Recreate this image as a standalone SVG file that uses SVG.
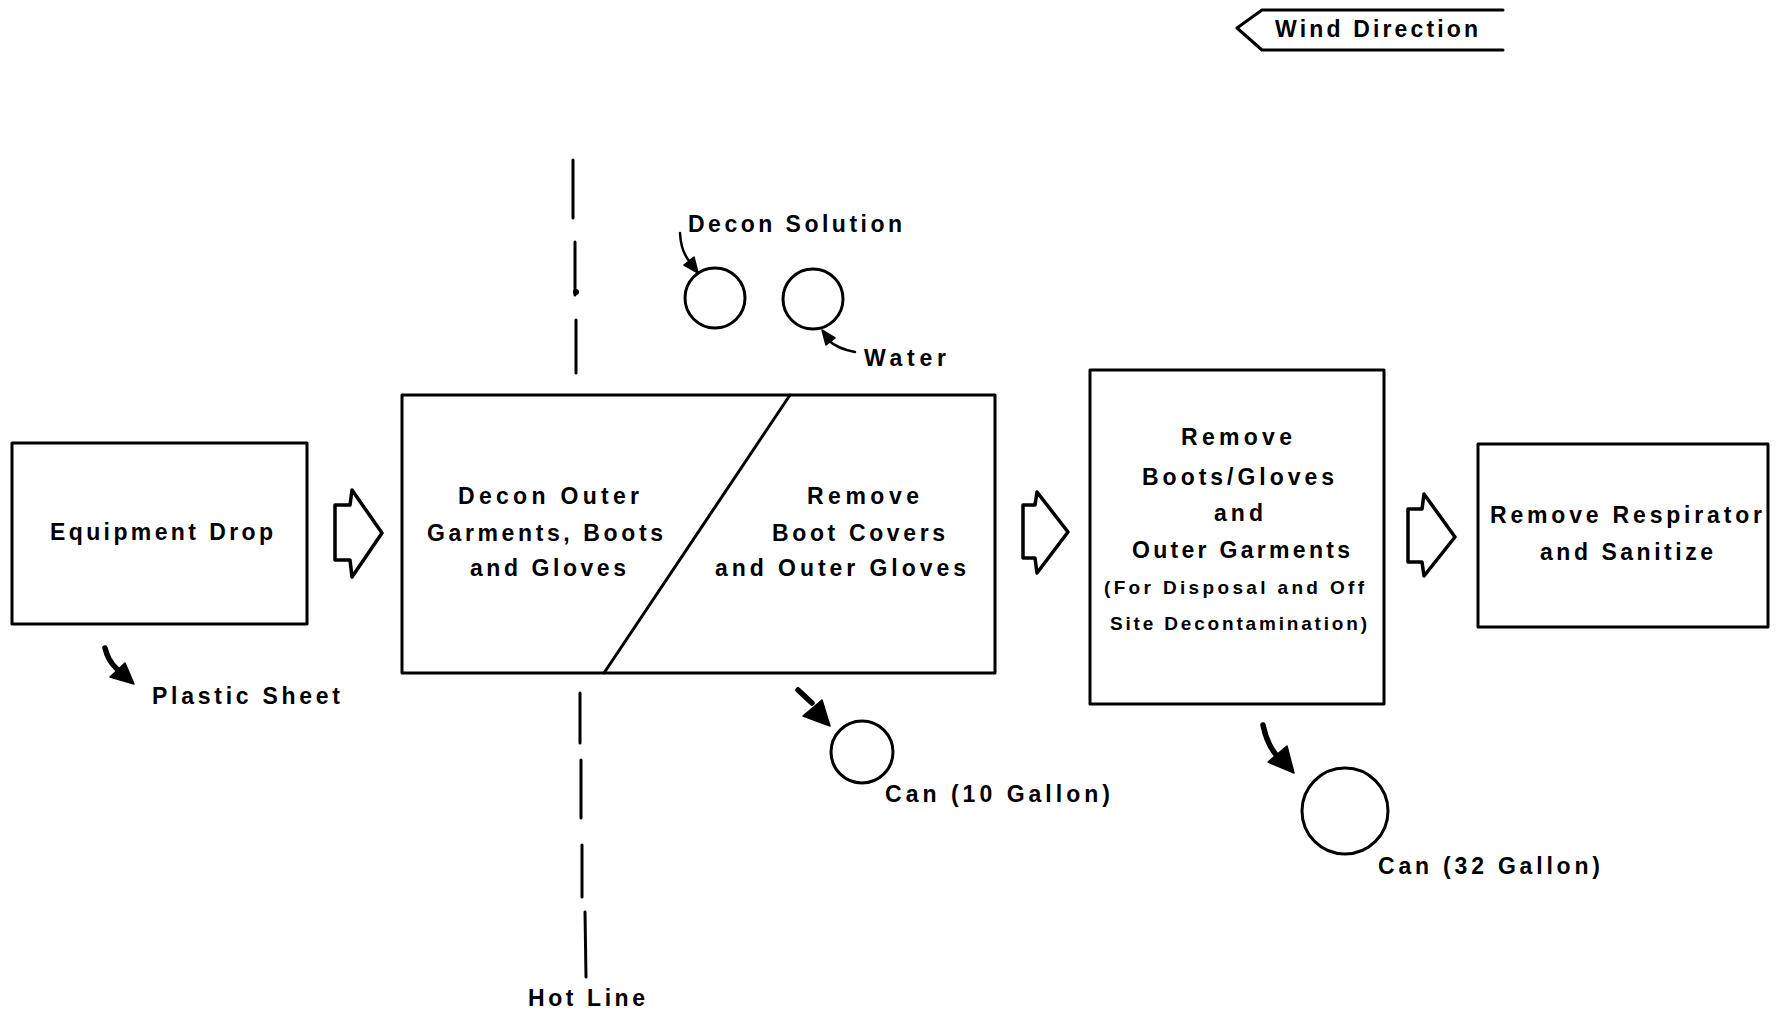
<svg xmlns="http://www.w3.org/2000/svg" width="1777" height="1011" viewBox="0 0 1777 1011">
<style>
  .box { fill: #fff; stroke: #000; stroke-width: 3; stroke-linejoin: round; }
  .ln { fill: none; stroke: #000; stroke-width: 3; stroke-linecap: round; stroke-linejoin: round; }
  .thin { fill: none; stroke: #000; stroke-width: 2.5; stroke-linecap: round; }
  .thick { fill: none; stroke: #000; stroke-width: 5.5; stroke-linecap: round; }
  .head { fill: #000; stroke: #000; stroke-width: 1.5; stroke-linejoin: round; }
  .hollow { fill: #fff; stroke: #000; stroke-width: 3.5; stroke-linejoin: round; }
  .can { fill: none; stroke: #000; stroke-width: 3; }
  text { font-family: "Liberation Sans", Arial, sans-serif; font-weight: bold; fill: #000; }
  .t23 { font-size: 23px; }
  .t19 { font-size: 19px; }
</style>
<rect width="1777" height="1011" fill="#fff"/>

<g id="wind-direction">
  <path class="ln" d="M1503,10 L1262,10 L1237,28 L1262,50 L1503,50"/>
  <text class="t23" x="1275" y="37" textLength="203" lengthAdjust="spacing">Wind Direction</text>
</g>

<g id="hot-line">
  <line class="ln" x1="573" y1="160" x2="573" y2="218"/>
  <line class="ln" x1="575" y1="242" x2="575" y2="295"/>
  <circle cx="576" cy="292" r="3" fill="#000"/>
  <line class="ln" x1="576" y1="320" x2="576" y2="373"/>
  <line class="ln" x1="580" y1="693" x2="580" y2="743"/>
  <line class="ln" x1="581" y1="760" x2="581" y2="818"/>
  <line class="ln" x1="582" y1="845" x2="582" y2="897"/>
  <line class="ln" x1="585" y1="912" x2="586" y2="977"/>
  <text class="t23" x="528" y="1006" textLength="117" lengthAdjust="spacing">Hot Line</text>
</g>

<g id="equipment-drop">
  <rect class="box" x="12" y="443" width="295" height="181"/>
  <text class="t23" x="50" y="540" textLength="223" lengthAdjust="spacing">Equipment Drop</text>
</g>

<g id="plastic-sheet">
  <text class="t23" x="152" y="704" textLength="188" lengthAdjust="spacing">Plastic Sheet</text>
</g>

<g id="decon-station">
  <rect class="box" x="402" y="395" width="593" height="278"/>
  <line class="ln" x1="790" y1="395" x2="604" y2="673"/>
  <text class="t23" x="458" y="504" textLength="181" lengthAdjust="spacing">Decon Outer</text>
  <text class="t23" x="427" y="541" textLength="236" lengthAdjust="spacing">Garments, Boots</text>
  <text class="t23" x="470" y="576" textLength="156" lengthAdjust="spacing">and Gloves</text>
  <text class="t23" x="807" y="504" textLength="112" lengthAdjust="spacing">Remove</text>
  <text class="t23" x="772" y="541" textLength="173" lengthAdjust="spacing">Boot Covers</text>
  <text class="t23" x="715" y="576" textLength="251" lengthAdjust="spacing">and Outer Gloves</text>
</g>

<g id="remove-boots">
  <rect class="box" x="1090" y="370" width="294" height="334"/>
  <text class="t23" x="1181" y="445" textLength="111" lengthAdjust="spacing">Remove</text>
  <text class="t23" x="1142" y="485" textLength="192" lengthAdjust="spacing">Boots/Gloves</text>
  <text class="t23" x="1214" y="521" textLength="49" lengthAdjust="spacing">and</text>
  <text class="t23" x="1132" y="558" textLength="218" lengthAdjust="spacing">Outer Garments</text>
  <text class="t19" x="1104" y="594" textLength="260" lengthAdjust="spacing">(For Disposal and Off</text>
  <text class="t19" x="1110" y="630" textLength="257" lengthAdjust="spacing">Site Decontamination)</text>
</g>

<g id="remove-respirator">
  <rect class="box" x="1478" y="444" width="290" height="183"/>
  <text class="t23" x="1490" y="523" textLength="272" lengthAdjust="spacing">Remove Respirator</text>
  <text class="t23" x="1540" y="560" textLength="173" lengthAdjust="spacing">and Sanitize</text>
</g>

<g id="decon-solution">
  <circle class="can" cx="715" cy="298" r="30"/>
  <text class="t23" x="688" y="232" textLength="214" lengthAdjust="spacing">Decon Solution</text>
</g>

<g id="water">
  <circle class="can" cx="813" cy="299" r="30"/>
  <text class="t23" x="864" y="366" textLength="82" lengthAdjust="spacing">Water</text>
</g>

<g id="can-10">
  <circle class="can" cx="862" cy="752" r="31"/>
  <text class="t23" x="885" y="802" textLength="225" lengthAdjust="spacing">Can (10 Gallon)</text>
</g>

<g id="can-32">
  <circle class="can" cx="1345" cy="811" r="43"/>
  <text class="t23" x="1378" y="874" textLength="222" lengthAdjust="spacing">Can (32 Gallon)</text>
</g>

<g id="connectors">
  <path class="hollow" d="M335,505 L350,505 L352,490 L382,533 L352,577 L350,560 L335,560 Z"/>
  <path class="hollow" d="M1023,505 L1035,505 L1037,492 L1068,532 L1037,573 L1035,558 L1023,558 Z"/>
  <path class="hollow" d="M1408,509 L1422,509 L1424,494 L1455,537 L1424,576 L1422,562 L1408,562 Z"/>

  <path class="thin" d="M680,233 Q681,252 690,262"/>
  <polygon class="head" points="684,265 694,257 698,273"/>

  <path class="thin" d="M855,352 Q838,349 828,340"/>
  <polygon class="head" points="822,330 835,338 826,345"/>

  <path class="thick" d="M105,648 Q108,661 117,669"/>
  <polygon class="head" points="110,677 125,663 134,684"/>

  <path class="thick" d="M798,690 L812,703"/>
  <polygon class="head" points="803,716 822,700 830,726"/>

  <path class="thick" d="M1263,725 Q1267,745 1278,757"/>
  <polygon class="head" points="1268,762 1287,746 1294,773"/>
</g>
</svg>
